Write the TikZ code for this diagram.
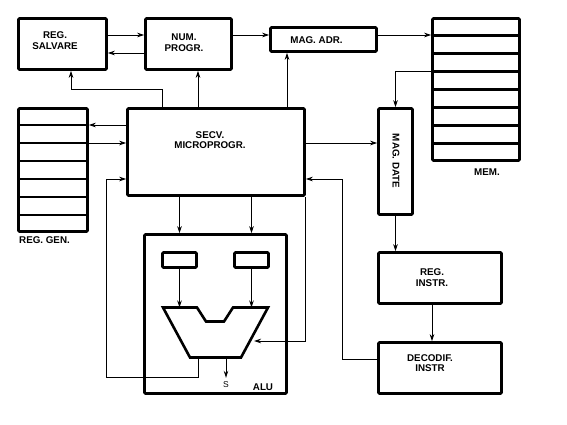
\documentclass[tikz,border=0pt]{standalone}
\usepackage{fontspec}
\setmainfont{Liberation Sans}
\usetikzlibrary{arrows.meta}

\tikzset{
	box/.style={draw, line width=2.6pt, rounded corners=1pt, inner sep=0pt},
	wall/.style={line width=2.6pt},
	txt/.style={align=center, inner sep=0pt, font=\bfseries\fontsize{9.8}{10.5}\selectfont},
	lab/.style={inner sep=0pt, font=\fontsize{8.5}{9}\selectfont},
	arr/.style={-{Stealth[length=7pt,width=4.5pt]}, line width=0.8pt}
}

\begin{document}
\begin{tikzpicture}[x=1pt,y=-1pt]
	\useasboundingbox (0,0) rectangle (567,425);

	% Draw boxes
	\node[box, minimum width=88pt, minimum height=51pt] (salv) at (62.5,44) {};
	\node[box, minimum width=86pt, minimum height=51pt] (nump) at (188.5,44) {};
	\node[box, minimum width=106pt, minimum height=24pt] (magadr) at (323.5,39.5) {};
	\node[box, minimum width=87pt, minimum height=142pt] (mem) at (476,89.5) {};
	\node[box, minimum width=34pt, minimum height=106pt] (magdate) at (395.5,161.5) {};
	\node[box, minimum width=177pt, minimum height=87pt] (secv) at (216,152) {};
	\node[box, minimum width=69pt, minimum height=123pt] (reggen) at (53,170) {};
	\node[box, minimum width=142pt, minimum height=159pt] (alu) at (215.5,314) {};
	\node[box, minimum width=34pt, minimum height=15pt] (rega) at (179.5,260) {};
	\node[box, minimum width=34pt, minimum height=15pt] (regb) at (251.5,260) {};
	\node[box, minimum width=123pt, minimum height=51pt] (reginstr) at (440,278) {};
	\node[box, minimum width=123pt, minimum height=51pt] (decodif) at (440,368) {};

	% Register cells
	\foreach \i in {1,...,7}
		\draw[wall] ([yshift=-\i*18.07pt]mem.north west) -- ([yshift=-\i*18.07pt]mem.north east);
	\foreach \i in {1,...,6}
		\draw[wall] ([yshift=-\i*17.94pt]reggen.north west) -- ([yshift=-\i*17.94pt]reggen.north east);

	% ALU body
	\draw[wall, line join=miter] (163,307.5) -- (197,307.5) -- (206,321.5) -- (224,321.5)
		-- (233,307.5) -- (268,307.5) -- (241,357.5) -- (190,357.5) -- cycle;
	\coordinate (alutop) at (215,307.5);
	\coordinate (aluin) at (254,341);
	\coordinate (alufb) at (198,357.5);
	\coordinate (aluout) at (226,357.5);

	% Texts
	\node[txt] (salvt) at (55,40.5) {REG.\\SALVARE};
	\node[txt] (numpt) at (184,42.5) {NUM.\\PROGR.};
	\node[txt] (magadrt) at (316.5,40.5) {MAG. ADR.};
	\node[txt] (secvt) at (210,140) {SECV.\\MICROPROGR.};
	\node[txt, rotate=-90] (magdatet) at (396,161) {MAG. DATE};
	\node[txt] (memt) at (487,172) {MEM.};
	\node[txt] (reggent) at (44.5,240) {REG. GEN.};
	\node[txt] (alut) at (263,387) {ALU};
	\node[lab] (s) at (226,385) {S};
	\node[txt] (reginstrt) at (432,277.5) {REG.\\INSTR.};
	\node[txt] (decodift) at (430,363) {DECODIF.\\INSTR};

	% Connectors
	\draw[arr] ([yshift=9pt]salv.east) -- ([yshift=9pt]salv.east -| nump.west);
	\draw[arr] ([yshift=-9pt]nump.west) -- ([yshift=-9pt]nump.west -| salv.east);
	\draw[arr] ([yshift=4.5pt]magadr.west -| nump.east) -- ([yshift=4.5pt]magadr.west);
	\draw[arr] ([yshift=4.5pt]magadr.east) -- ([yshift=4.5pt]magadr.east -| mem.west);
	\draw[arr] ([yshift=-3*18.07pt]mem.north west) -| (magdate.north);
	%Microprogram sequencer outputs
	\draw[arr] ([xshift=-54pt]secv.north) -- ++(0,-18) -| ([xshift=8.5pt]salv.south);
	\draw[arr] ([xshift=-18pt]secv.north) -- ([xshift=-18pt]secv.north |- nump.south);
	\draw[arr] ([xshift=71pt]secv.north) -- ([xshift=71pt]secv.north |- magadr.south);
	\draw[arr] ([yshift=27pt]secv.west) -- ([yshift=27pt]secv.west -| reggen.east);
	\draw[arr] ([yshift=9pt]secv.west -| reggen.east) -- ([yshift=9pt]secv.west);
	\draw[arr] ([yshift=9pt]secv.east) -- ([yshift=9pt]secv.east -| magdate.west);
	\draw[arr] (secv.south -| rega) -- (alu.north -| rega);
	\draw[arr] (secv.south -| regb) -- (alu.north -| regb);
	%ALU
	\draw[arr] (rega.south) -- (rega.south |- alutop);
	\draw[arr] (regb.south) -- (regb.south |- alutop);
	\draw[arr] (secv.south east) |- (aluin);
	\draw[arr] (alufb) -- ++(0,19.5) -| ([xshift=-20pt,yshift=-27pt]secv.west) -- ([yshift=-27pt]secv.west);
	\draw[arr] (aluout) -- ([yshift=4pt]s.north);
	%Instruction path
	\draw[arr] (magdate.south) -- (magdate.south |- reginstr.north);
	\draw[arr] ([xshift=-8pt]reginstr.south) -- ([xshift=-8pt]decodif.north);
	\draw[arr] ([yshift=9pt]decodif.west) -- ++(-35,0) |- ([yshift=-27pt]secv.east);

\end{tikzpicture}
\end{document}
